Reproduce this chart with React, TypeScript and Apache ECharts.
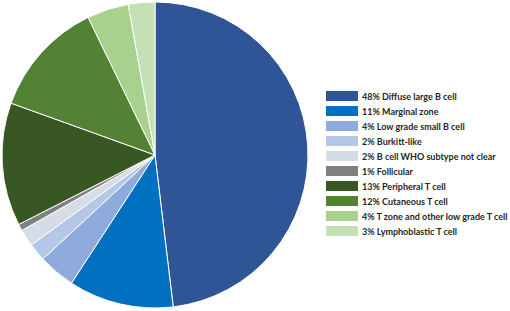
import React, { useEffect, useRef } from "react";
import * as echarts from "echarts";

const names = [
  "48% Diffuse large B cell",
  "11% Marginal zone",
  "4% Low grade small B cell",
  "2% Burkitt-like",
  "2% B cell WHO subtype not clear",
  "1% Follicular",
  "13% Peripheral T cell",
  "12% Cutaneous T cell",
  "4% T zone and other low grade T cell",
  "3% Lymphoblastic T cell",
];
const values = [48.1, 11.1, 3.9, 1.9, 1.8, 0.7, 13.0, 12.3, 4.4, 2.8];
const colors = [
  "#2F5597",
  "#0070C0",
  "#8FAADC",
  "#B4C7E7",
  "#D6DCE5",
  "#7F7F7F",
  "#385723",
  "#548235",
  "#A9D18E",
  "#C5E0B4",
];

export default function App() {
  const ref = useRef<HTMLDivElement>(null);
  useEffect(() => {
    document.body.style.margin = "0";
    const chart = echarts.init(ref.current!, null, { renderer: "svg" });
    chart.setOption({
      animation: false,
      color: colors,
      legend: {
        orient: "vertical",
        left: 321,
        top: 86,
        itemWidth: 32,
        itemHeight: 10,
        itemGap: 5,
        icon: "rect",
        itemStyle: { borderWidth: 0 },
        textStyle: {
          fontFamily: "Lato",
          fontWeight: "bold",
          fontSize: 9,
          lineHeight: 10,
          color: "#262626",
          padding: [0, 0, 0, -1],
        },
        data: names,
      },
      series: [
        {
          type: "pie",
          center: [155, 155],
          radius: 153,
          startAngle: 90,
          clockwise: true,
          label: { show: false },
          labelLine: { show: false },
          itemStyle: { borderColor: "#ffffff", borderWidth: 1 },
          emphasis: { disabled: true },
          data: names.map((n, i) => ({ name: n, value: values[i] })),
        },
      ],
    });
    return () => chart.dispose();
  }, []);
  return <div ref={ref} style={{ width: 510, height: 311 }} />;
}
